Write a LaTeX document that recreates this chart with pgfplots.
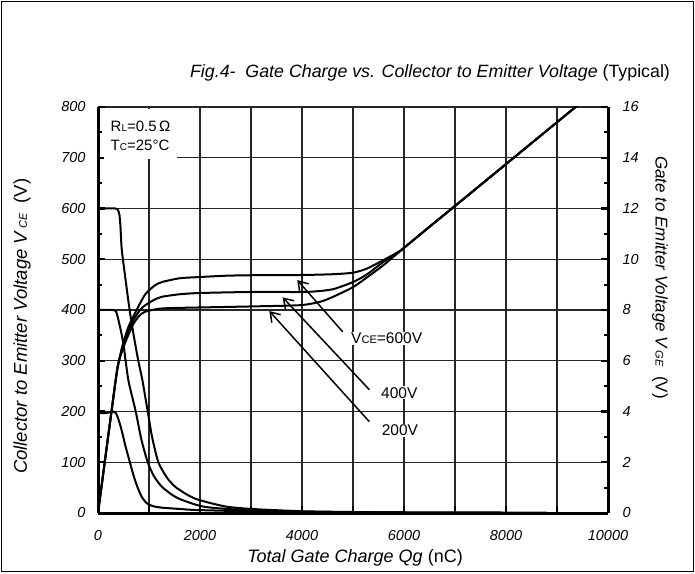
\documentclass[border=0pt]{standalone}
\usepackage{fontspec}
\setmainfont{Liberation Sans}
\usepackage{pgfplots}
\pgfplotsset{compat=1.18}
\usetikzlibrary{arrows.meta}
\newcommand{\fs}[1]{\fontsize{#1}{#1}\selectfont}

\pgfplotstableread{
x y
0 600
340 600
390 597
420 588
440 565
465 520
540 460
620 400
700 350
790 300
870 262
975 200
1060 150
1183 100
1350 70
1510 52
1750 36
1970 26
2490 13
3000 8
4000 3.5
5000 2
6000 1
8800 0.3
}\vceA
\pgfplotstableread{
x y
0 400
300 400
350 398
390 385
431 367
497 334
595 262
740 200
850 145
975 100
1100 72
1250 52
1450 36
1640 26
2100 12
3000 5
4000 2.5
6000 1
8800 0.3
}\vceB
\pgfplotstableread{
x y
0 197
150 197
250 199
300 200
350 197
400 185
464 163
530 135
595 111
660 87
725 65
790 47
856 32
920 23
987 17
1100 13
1250 10.5
1600 8
1900 6
2880 3.5
4000 2
6000 1
8800 0.3
}\vceC
\pgfplotstableread{
x y
0 0
347 5.24
412 6.0
480 6.6
600 7.35
758 8.0
920 8.6
1100 8.95
1250 9.1
1600 9.25
2000 9.3
2500 9.35
3000 9.37
4000 9.38
4600 9.41
5000 9.47
5270 9.63
5600 9.97
5920 10.32
6000 10.45
6500 11.28
7000 12.1
8000 13.75
9000 15.4
9400 16.06
}\vgeA
\pgfplotstableread{
x y
0 0
347 5.24
412 6.0
500 6.6
650 7.45
824 8.0
920 8.18
1100 8.4
1250 8.52
1600 8.62
2000 8.67
3000 8.71
4000 8.71
4300 8.74
4610 8.82
5000 9.1
5270 9.4
5600 9.9
5900 10.3
6000 10.45
6500 11.28
7000 12.1
8000 13.75
9000 15.4
9400 16.06
}\vgeB
\pgfplotstableread{
x y
0 0
347 5.24
412 6.0
520 6.65
680 7.4
800 7.75
920 7.93
1250 8.06
2000 8.1
3000 8.14
3960 8.19
4350 8.32
4610 8.52
5000 8.9
5270 9.28
5600 9.77
5900 10.28
6000 10.45
6500 11.28
7000 12.1
8000 13.75
9000 15.4
9400 16.06
}\vgeC

\begin{document}
\begin{tikzpicture}[x=1pt,y=1pt]
\path[use as bounding box] (0,0) rectangle (695,573);
\draw[line width=1.6pt] (1.5,1.5) rectangle (693.5,571.5);
\begin{axis}[
  at={(98pt,60pt)}, anchor=south west, scale only axis,
  width=510pt, height=406pt,
  xmin=0, xmax=10000, ymin=0, ymax=800,
  axis x line*=bottom, axis y line*=left,
  axis line style={-, line width=3pt},
  xtick={0,1000,...,10000},
  xticklabels={0,,2000,,4000,,6000,,8000,,10000},
  scaled x ticks=false,
  ytick={0,100,...,800},
  minor y tick num=1,
  tick align=inside,
  major tick length=7pt, minor tick length=4.5pt,
  every tick/.style={black, line width=2.2pt},
  grid=major,
  major grid style={black!85, line width=1.1pt},
  /pgf/number format/assume math mode=true,
  tick label style={font=\fs{14.5}\itshape},
  xticklabel style={yshift=-14pt},
  yticklabel style={xshift=-9pt},
  title={\itshape Fig.4-\ \ Gate Charge vs. Collector to Emitter Voltage\upshape\ (Typical)},
  title style={at={(axis description cs:0.651,1.068)}, anchor=center, font=\fs{17.8}},
  xlabel={\itshape Total Gate Charge Qg\upshape\ (nC)},
  xlabel style={at={(axis description cs:0.504,-0.11)}, anchor=center, font=\fs{18}},
  ylabel={\itshape Collector to Emitter Voltage V\,{\fs{11}CE}\upshape\ \ (V)},
  ylabel style={at={(axis description cs:-0.149,0.46)}, anchor=center, rotate=0, font=\fs{18.5}},
]
\addplot[black, line width=2pt, smooth, tension=0.4] table {\vceA};
\addplot[black, line width=2pt, smooth, tension=0.4] table {\vceB};
\addplot[black, line width=2pt, smooth, tension=0.4] table {\vceC};
\fill[white] (axis cs:120,697) rectangle (axis cs:1550,796);
\node[anchor=west, font=\fs{15}] at (axis cs:180,762) {R{\fs{10}L}=0.5\,Ω};
\node[anchor=west, font=\fs{15}] at (axis cs:180,724) {T{\fs{10}C}=25°C};
\draw[line width=1.5pt, -{Straight Barb[length=9pt,width=12pt]}] (axis cs:4798,357) -- (axis cs:3908,459);
\draw[line width=1.5pt, -{Straight Barb[length=9pt,width=12pt]}] (axis cs:5320,243) -- (axis cs:3621,425);
\draw[line width=1.5pt, -{Straight Barb[length=9pt,width=12pt]}] (axis cs:5320,180) -- (axis cs:3359,398);
\node[fill=white, inner sep=1pt, font=\fs{15.5}] at (axis cs:5660,344) {V{\fs{11}CE}=600V};
\node[fill=white, inner sep=1pt, font=\fs{15.5}] at (axis cs:5908,237) {400V};
\node[fill=white, inner sep=1pt, font=\fs{15.5}] at (axis cs:5921,163) {200V};
\end{axis}
\begin{axis}[
  at={(98pt,60pt)}, anchor=south west, scale only axis,
  width=510pt, height=406pt,
  xmin=0, xmax=10000, ymin=0, ymax=16,
  axis x line=none, axis y line*=right,
  axis line style={-, line width=3pt},
  ytick={0,2,...,16},
  minor y tick num=1,
  tick align=inside,
  major tick length=7pt, minor tick length=4.5pt,
  every tick/.style={black, line width=2.2pt},
  /pgf/number format/assume math mode=true,
  tick label style={font=\fs{14.5}\itshape},
  yticklabel style={xshift=11pt},
  ylabel={\itshape Gate to Emitter Voltage V\,{\fs{11}GE}\upshape\ \ (V)},
  ylabel style={at={(axis description cs:1.102,0.58)}, anchor=center, rotate=180, font=\fs{17}},
]
\addplot[black, line width=2pt, smooth, tension=0.4] table {\vgeA};
\addplot[black, line width=2pt, smooth, tension=0.4] table {\vgeB};
\addplot[black, line width=2pt, smooth, tension=0.4] table {\vgeC};
\end{axis}
\end{tikzpicture}
\end{document}
